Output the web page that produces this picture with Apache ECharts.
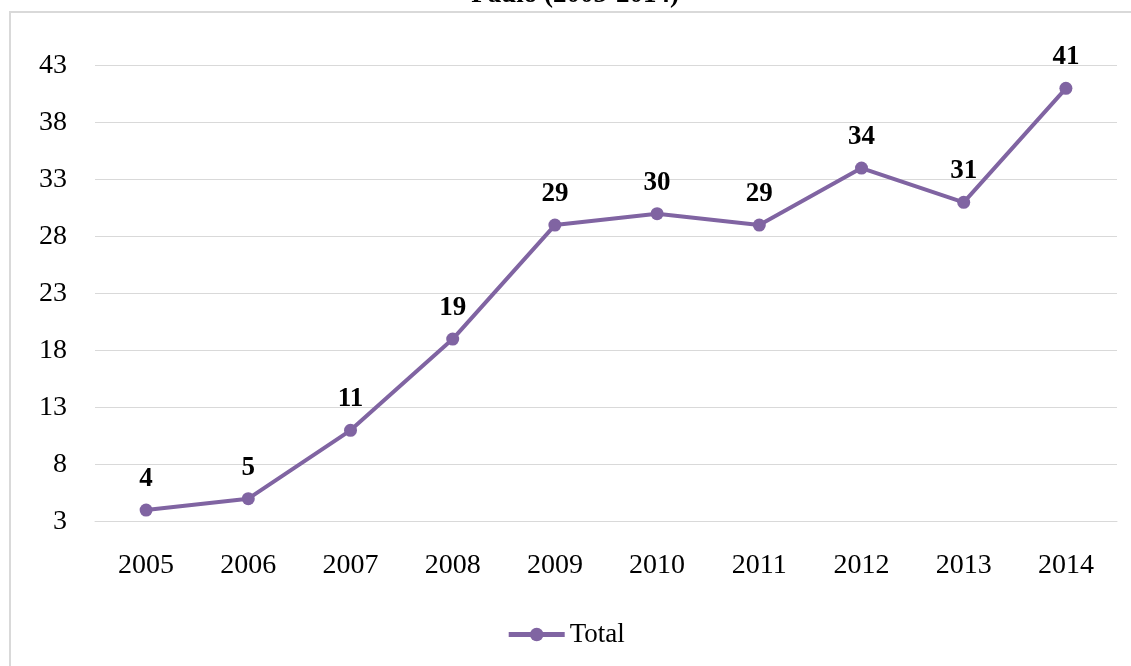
<!DOCTYPE html>
<html><head><meta charset="utf-8">
<script src="https://cdn.jsdelivr.net/npm/echarts@6/dist/echarts.min.js"></script>
<style>html,body{margin:0;padding:0;background:#fff}#c{width:1131px;height:666px}</style>
</head><body><div id="c"></div>
<script>
var categories = ['2005','2006','2007','2008','2009','2010','2011','2012','2013','2014'];
var totalValues = [4,5,11,19,29,30,29,34,31,41];
var seriesName = 'Total';
var titleText = 'Paulo (2005-2014)';
var yMin = 3, yMax = 43, yStep = 5;

var chart = echarts.init(document.getElementById('c'));
var serif = '"Liberation Serif","DejaVu Serif",serif';
chart.setOption({
  animation: false,
  backgroundColor: '#fff',
  graphic: [
    {type:'rect', shape:{x:10, y:12, width:1140, height:700}, style:{fill:'none', stroke:'#d9d9d9', lineWidth:2}, z:-1},
    {type:'text', x:575, y:9, style:{text:titleText, font:'bold 27px ' + serif, fill:'#000', textAlign:'center', textVerticalAlign:'bottom'}}
  ],
  grid: {left:95, right:14, top:65.5, bottom:144.5, containLabel:false},
  legend: {
    bottom: 13, left: 'center',
    itemWidth: 56, itemHeight: 17, itemGap: 7,
    data: [seriesName],
    lineStyle: {width: 5},
    textStyle: {fontFamily: serif, fontSize: 27, color: '#000'}
  },
  xAxis: {
    type: 'category', data: categories, boundaryGap: true,
    axisLine: {show: true, lineStyle: {color: '#d9d9d9', width: 1}},
    axisTick: {show: false},
    axisLabel: {fontFamily: serif, fontSize: 28, color: '#000', margin: 30}
  },
  yAxis: {
    type: 'value', min: yMin, max: yMax, interval: yStep,
    axisLine: {show: false}, axisTick: {show: false},
    splitLine: {lineStyle: {color: '#d9d9d9', width: 1}},
    axisLabel: {fontFamily: serif, fontSize: 28, color: '#000', margin: 28}
  },
  series: [{
    name: seriesName, type: 'line', data: totalValues,
    color: '#8064A2',
    lineStyle: {width: 4, color: '#8064A2'},
    itemStyle: {color: '#8064A2'},
    symbol: 'circle', symbolSize: 13,
    label: {show: true, position: 'top', distance: 11, fontFamily: serif, fontWeight: 'bold', fontSize: 27, color: '#000'}
  }]
});
</script></body></html>
